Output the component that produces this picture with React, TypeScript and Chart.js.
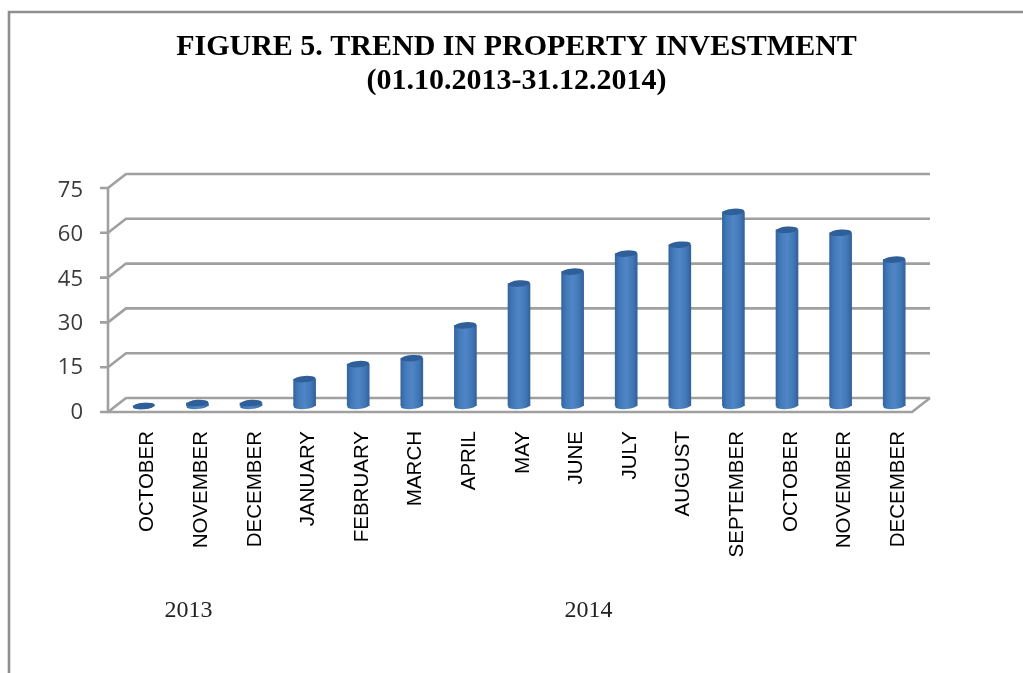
import React, { useEffect, useRef } from "react";
import { Chart, registerables } from "chart.js";

Chart.register(...registerables);

const months = ["OCTOBER","NOVEMBER","DECEMBER","JANUARY","FEBRUARY","MARCH","APRIL","MAY","JUNE","JULY","AUGUST","SEPTEMBER","OCTOBER","NOVEMBER","DECEMBER"];
const investment = [0, 1, 1, 9, 14, 16, 27, 41, 45, 51, 54, 65, 59, 58, 49];
const yTicks = [0, 15, 30, 45, 60, 75];
const titleLines = ["FIGURE 5. TREND IN PROPERTY INVESTMENT", "(01.10.2013-31.12.2014)"];
const years = ["2013", "2014"];

const GRID = "#a0a0a0";
const BAR_W = 22;

function barGradient(c: CanvasRenderingContext2D, x: number) {
  if (!Number.isFinite(x)) return "#4278b8";
  const g = c.createLinearGradient(x - BAR_W / 2, 0, x + BAR_W / 2, 0);
  g.addColorStop(0, "#35659f");
  g.addColorStop(0.2, "#4279b9");
  g.addColorStop(0.5, "#5086c6");
  g.addColorStop(0.8, "#4077b6");
  g.addColorStop(1, "#33619a");
  return g;
}

const scenery = {
  id: "scenery",
  beforeDatasetsDraw(chart: any) {
    const { ctx: c, scales } = chart;
    const y = scales.y;
    const xs = scales.x;
    const front = 6;
    const back = -8;
    const l = chart.chartArea.left;
    const r = chart.chartArea.right;
    const fl = l - 9;
    const bl = l + 9;
    const fr = r - 9;
    const br = r + 9;
    c.save();
    // page frame
    c.strokeStyle = "#8e8e8e";
    c.lineWidth = 2.6;
    c.beginPath();
    c.moveTo(9, chart.height);
    c.lineTo(9, 12);
    c.lineTo(chart.width, 12);
    c.stroke();
    // walls
    c.strokeStyle = GRID;
    c.lineWidth = 2.6;
    c.lineJoin = "round";
    for (const t of yTicks) {
      const p = y.getPixelForValue(t);
      c.beginPath();
      c.moveTo(fl - 8, p + front);
      c.lineTo(fl, p + front);
      c.lineTo(bl, p + back);
      c.lineTo(br, p + back);
      c.stroke();
    }
    const p0 = y.getPixelForValue(0);
    const p75 = y.getPixelForValue(75);
    c.beginPath();
    c.moveTo(fl, p75 + front);
    c.lineTo(fl, p0 + front);
    c.lineTo(fr, p0 + front);
    c.lineTo(br, p0 + back);
    c.stroke();
    // year captions
    c.fillStyle = "#222";
    c.font = "24px 'Liberation Serif'";
    c.textAlign = "center";
    c.textBaseline = "middle";
    c.fillText(years[0], xs.getPixelForValue(1) - 9, 611);
    c.fillText(years[1], xs.getPixelForValue(8) + 16, 611);
    // cylinder bottoms
    const meta = chart.getDatasetMeta(0);
    meta.data.forEach((el: any) => {
      c.fillStyle = barGradient(c, el.x);
      c.beginPath();
      c.ellipse(el.x, el.base, BAR_W / 2, 3, -0.08, 0, Math.PI * 2);
      c.fill();
    });
    c.restore();
  },
  afterDatasetsDraw(chart: any) {
    const { ctx: c } = chart;
    const meta = chart.getDatasetMeta(0);
    c.save();
    meta.data.forEach((el: any) => {
      c.fillStyle = "#2f5f98";
      c.beginPath();
      c.ellipse(el.x, el.y, BAR_W / 2, 3.2, -0.08, 0, Math.PI * 2);
      c.fill();
    });
    c.restore();
  },
};

export default function App() {
  const ref = useRef<HTMLCanvasElement>(null);
  useEffect(() => {
    const chart = new Chart(ref.current!, {
      type: "bar",
      data: {
        labels: months,
        datasets: [
          {
            data: investment,
            yAxisID: "y",
            barThickness: BAR_W,
            borderWidth: 0,
            backgroundColor: (ctx: any) => barGradient(ctx.chart.ctx, ctx.chart.scales.x.getPixelForValue(ctx.dataIndex)),
          },
        ],
      },
      options: {
        responsive: false,
        animation: false,
        layout: { padding: { left: 10, right: 0, top: 0, bottom: 0 }, autoPadding: false },
        plugins: {
          legend: { display: false },
          tooltip: { enabled: false },
          title: {
            display: true,
            text: titleLines,
            color: "#000",
            font: { family: "'Liberation Serif'", size: 30, weight: "bold", lineHeight: 1.133 },
            padding: { top: 30, bottom: 84 },
          },
        },
        scales: {
          x: {
            grid: { display: false },
            border: { display: false },
            ticks: {
              minRotation: 90,
              maxRotation: 90,
              autoSkip: false,
              padding: 17,
              labelOffset: 4,
              color: "#000",
              font: { family: "'Liberation Sans'", size: 20.5 },
            },
            afterFit: (s: any) => { s.height = 267; },
          },
          y: {
            position: "right",
            min: 0,
            max: 75,
            grid: { display: false },
            border: { display: false },
            ticks: { display: false },
            afterFit: (s: any) => { s.width = 102; },
          },
          yLabels: {
            position: "left",
            min: 2.2,
            max: 77.9,
            grid: { display: false },
            border: { display: false },
            ticks: {
              autoSkip: false,
              padding: 26,
              color: "#3a3a3a",
              font: { family: "'Open Sans'", size: 22 },
              callback: (v: any) => String(v),
            },
            afterBuildTicks: (s: any) => { s.ticks = yTicks.map((value) => ({ value })); },
            afterFit: (s: any) => { s.width = 107; },
          },
        },
      },
      plugins: [scenery],
    } as any);
    return () => chart.destroy();
  }, []);
  return (
    <div style={{ position: "fixed", left: 0, top: 0, width: 1023, height: 673, background: "#fff" }}>
      <canvas ref={ref} width={1023} height={673} style={{ display: "block" }} />
    </div>
  );
}
